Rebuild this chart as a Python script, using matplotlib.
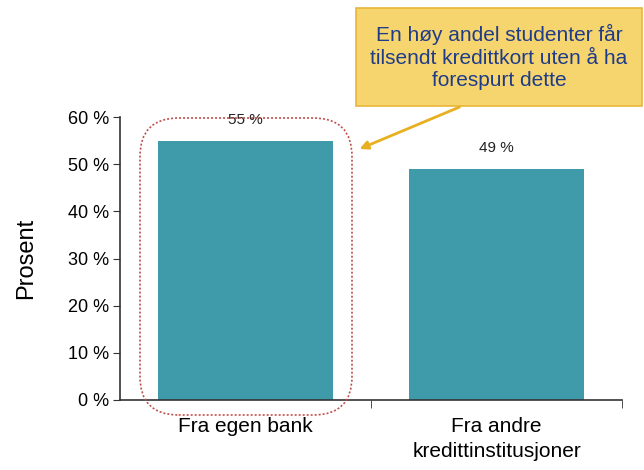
import matplotlib
matplotlib.use("Agg")
import matplotlib.pyplot as plt
from matplotlib.patches import FancyBboxPatch, FancyArrowPatch
from matplotlib.ticker import FixedLocator

categories = ["Fra egen bank", "Fra andre\nkredittinstitusjoner"]
values = [0.55, 0.49]
value_labels = ["55 %", "49 %"]
yticks = [0, 0.1, 0.2, 0.3, 0.4, 0.5, 0.6]
ytick_labels = ["0 %", "10 %", "20 %", "30 %", "40 %", "50 %", "60 %"]
callout_text = "En høy andel studenter får\ntilsendt kredittkort uten å ha\nforespurt dette"

plt.rcParams['font.family'] = ['Liberation Sans', 'DejaVu Sans']

W, H = 644, 470
fig = plt.figure(figsize=(W/100, H/100), dpi=100)
ax = fig.add_axes([120/W, 1-400/H, (622-120)/W, (400-117)/H])

x = list(range(len(categories)))
ax.bar(x, values, width=0.7, color="#3F9AAA", edgecolor="none")
ax.set_xlim(-0.5, len(categories)-0.5)
ax.set_ylim(0, 0.6)
ax.set_yticks(yticks)
ax.set_yticklabels(ytick_labels, fontsize=13)
ax.set_xticks(x)
ax.set_xticklabels(categories, fontsize=15)
for t in ax.get_xticklabels():
    t.set_linespacing(1.45)
ax.tick_params(axis='x', length=0, pad=12)
ax.xaxis.set_minor_locator(FixedLocator([0.5, 1.5]))
ax.tick_params(axis='x', which='minor', length=6, direction='out', color='#333333')
ax.tick_params(axis='y', length=5, direction='out', color='#333333', pad=3)
for s in ['top', 'right']:
    ax.spines[s].set_visible(False)
for s in ['left', 'bottom']:
    ax.spines[s].set_color('#333333')
    ax.spines[s].set_linewidth(1.2)
ax.set_ylabel("Prosent", fontsize=17, labelpad=22)

for xi, v, lab in zip(x, values, value_labels):
    ax.annotate(lab, (xi, v), xytext=(0, 10), textcoords='offset points',
                ha='center', va='bottom', fontsize=11, color='#222222')

def px(xp, yp):
    return (xp/W, 1-yp/H)

x0, y0 = px(140, 415)
x1, y1 = px(352, 118)
hl = FancyBboxPatch((x0, y0), x1-x0, y1-y0, transform=fig.transFigure,
                    boxstyle="round,pad=0,rounding_size=0.06",
                    fill=False, edgecolor="#C0504D", linestyle=(0, (1.2, 1.2)),
                    linewidth=1.2, mutation_aspect=W/H)
fig.add_artist(hl)

bx0, by0 = px(356, 106)
bx1, by1 = px(642, 8)
box = FancyBboxPatch((bx0, by0), bx1-bx0, by1-by0, transform=fig.transFigure,
                     boxstyle="square,pad=0", facecolor="#F6D46E", edgecolor="#E8B53A",
                     linewidth=1.2)
fig.add_artist(box)
fig.text((bx0+bx1)/2, (by0+by1)/2, callout_text, ha='center', va='center',
         fontsize=15, color="#1F3C88", linespacing=1.25)

fig.add_artist(FancyArrowPatch(px(462, 106), px(357, 150), transform=fig.transFigure,
               arrowstyle='-|>', mutation_scale=12, color="#E8B020", linewidth=2))

fig.savefig("out.png", dpi=100)
